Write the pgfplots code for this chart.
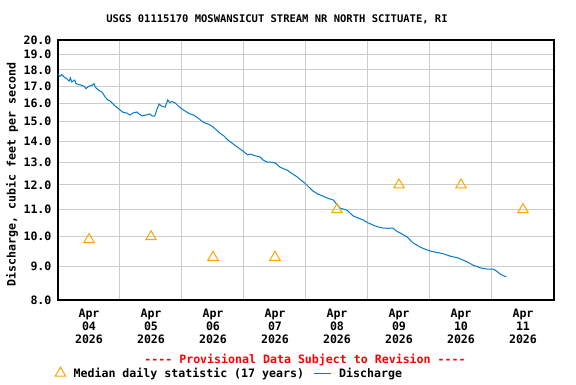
\documentclass[border=0pt]{standalone}
\usepackage{fontspec}
\setmainfont{DejaVu Sans Mono}
\usepackage{pgfplots}
\pgfplotsset{compat=1.18}
\definecolor{qblue}{RGB}{0,122,204}
\definecolor{qorange}{RGB}{255,165,0}
\definecolor{qgrid}{RGB}{204,204,204}
\newcommand{\lf}{\fontsize{11.6}{13}\selectfont\bfseries}
\pgfplotsset{tri legend/.style={legend image code/.code={\draw[mark repeat=2,mark phase=2,##1] plot coordinates {(0pt,0pt)(8pt,0pt)(16pt,0pt)};}}}
\begin{document}
\begin{tikzpicture}
\useasboundingbox (-58pt,-84pt) rectangle (518pt,300pt);
\begin{axis}[
  at={(0pt,0pt)}, anchor=south west,
  scale only axis, width=496pt, height=260pt,
  xmin=0, xmax=8, ymin=8, ymax=20, ymode=log,
  ytick={8,9,10,11,12,13,14,15,16,17,18,19,20},
  yticklabels={8.0,9.0,10.0,11.0,12.0,13.0,14.0,15.0,16.0,17.0,18.0,19.0,20.0},
  xtick={0.5,1.5,2.5,3.5,4.5,5.5,6.5,7.5},
  xticklabels={{Apr\\04\\2026},{Apr\\05\\2026},{Apr\\06\\2026},{Apr\\07\\2026},{Apr\\08\\2026},{Apr\\09\\2026},{Apr\\10\\2026},{Apr\\11\\2026}},
  xticklabel style={align=center, font=\lf, yshift=-6pt},
  yticklabel style={font=\lf, xshift=-3pt},
  minor xtick={1,2,3,4,5,6,7},
  xminorgrids, ymajorgrids,
  grid style={qgrid, line width=1pt},
  minor grid style={qgrid, line width=1pt},
  major tick length=0pt, minor tick length=0pt,
  axis line style={line width=1.2pt},
  /pgf/number format/assume math mode=true,
  ylabel={Discharge, cubic feet per second},
  ylabel style={font=\lf, at={(axis description cs:-0.0927,0.483)}, anchor=center, rotate=0},
  legend columns=-1,
  legend style={draw=none, fill=none, font=\lf, inner sep=0pt,
    at={(axis description cs:-0.006,-0.281)}, anchor=west,
    /tikz/every even column/.append style={column sep=7pt},
    /tikz/every odd column/.append style={column sep=6pt}},
  clip=false,
]
\addplot[only marks, mark=triangle, mark size=6pt, qorange, mark options={line width=1pt, solid}, tri legend]
  coordinates {(0.5,9.9) (1.5,10.0) (2.5,9.3) (3.5,9.3) (4.5,11.0) (5.5,12.0) (6.5,12.0) (7.5,11.0)};
\addlegendentry{Median daily statistic (17 years)}
\addplot[qblue, line width=1pt, mark=none] coordinates {
(0.000,17.74) (0.03,17.6) (0.06,17.7) (0.10,17.55) (0.14,17.45) (0.18,17.3) (0.20,17.5) (0.22,17.25)
(0.27,17.37) (0.29,17.15) (0.33,17.1) (0.36,17.07) (0.42,17.0) (0.45,16.85) (0.50,17.0) (0.55,17.05)
(0.58,17.15) (0.60,16.95) (0.63,16.83) (0.68,16.7) (0.71,16.65) (0.76,16.36) (0.80,16.2) (0.84,16.13)
(0.88,16.0) (0.92,15.85) (0.96,15.75) (1.00,15.63) (1.05,15.5) (1.11,15.46) (1.16,15.35) (1.21,15.46)
(1.27,15.52) (1.31,15.4) (1.36,15.30) (1.41,15.35) (1.48,15.41) (1.52,15.30) (1.56,15.30) (1.58,15.5)
(1.60,15.7) (1.63,15.96) (1.67,15.85) (1.70,15.8) (1.73,15.79) (1.75,16.0) (1.77,16.19) (1.80,16.05)
(1.84,16.1) (1.89,16.02) (1.94,15.85) (2.00,15.68) (2.06,15.55) (2.13,15.41) (2.19,15.35) (2.26,15.19)
(2.31,15.05) (2.37,14.93) (2.44,14.85) (2.50,14.72) (2.56,14.55) (2.61,14.41) (2.68,14.25) (2.74,14.06)
(2.81,13.9) (2.89,13.72) (2.97,13.55) (3.06,13.34) (3.10,13.38) (3.18,13.3) (3.26,13.24) (3.31,13.1)
(3.37,13.01) (3.44,13.0) (3.50,12.97) (3.58,12.78) (3.64,12.7) (3.69,12.65) (3.77,12.5) (3.86,12.34)
(3.92,12.2) (3.98,12.08) (4.05,11.9) (4.11,11.75) (4.19,11.62) (4.27,11.54) (4.35,11.45) (4.44,11.38)
(4.50,11.2) (4.55,11.06) (4.66,10.98) (4.76,10.76) (4.84,10.68) (4.92,10.61) (5.00,10.5) (5.08,10.42)
(5.16,10.35) (5.24,10.31) (5.32,10.3) (5.40,10.31) (5.46,10.2) (5.52,10.13) (5.63,9.99) (5.73,9.78)
(5.84,9.64) (5.92,9.57) (6.00,9.51) (6.08,9.47) (6.16,9.44) (6.24,9.4) (6.32,9.34) (6.45,9.28)
(6.52,9.22) (6.60,9.15) (6.69,9.05) (6.76,9.0) (6.81,8.96) (6.92,8.92) (7.02,8.92) (7.08,8.85)
(7.13,8.77) (7.18,8.72) (7.23,8.68)};
\addlegendentry{Discharge}
\node[font=\fontsize{10.5}{12}\selectfont\bfseries] at (axis description cs:0.4415,1.0808) {USGS 01115170 MOSWANSICUT STREAM NR NORTH SCITUATE, RI};
\node[font=\lf, text=red] at (axis description cs:0.498,-0.231) {-{}-{}-{}- Provisional Data Subject to Revision -{}-{}-{}-};
\end{axis}
\end{tikzpicture}
\end{document}
